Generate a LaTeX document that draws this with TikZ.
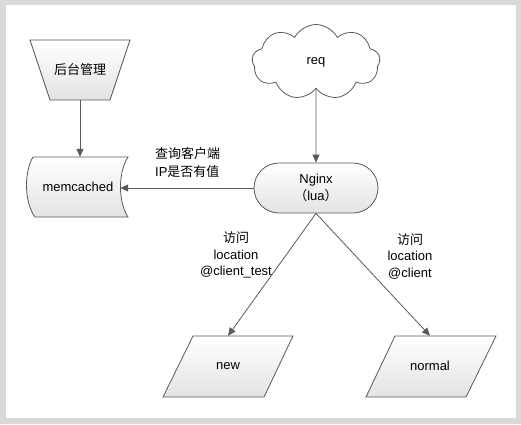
\documentclass[tikz,border=0pt]{standalone}
\usepackage{fontspec}
\setmainfont{Liberation Sans}
\newfontfamily\cjk{Noto Sans CJK SC}
\usetikzlibrary{arrows.meta,shapes.symbols,shapes.misc}
\definecolor{linec}{HTML}{5A5A5A}
\definecolor{framec}{HTML}{D9D9D9}
\definecolor{shadebot}{HTML}{E3E3E3}
\begin{document}
\begin{tikzpicture}[x=1pt,y=-1pt,
  font=\fontsize{13}{16.5}\selectfont,
  outline/.style={draw=linec, line width=0.8pt, top color=white, bottom color=shadebot},
  textbox/.style={inner sep=0pt, align=center},
  conn/.style={draw=linec, line width=0.8pt, -{Triangle[length=8pt,width=7pt]}},
  lbl/.style={inner sep=0pt, align=center}]
\useasboundingbox (0,0) rectangle (521,424);
\fill[framec] (0,0) rectangle (521,424);
\fill[white] (6,5) rectangle (516,418);
% shape outlines
\path[outline] (30,40) -- (130,40) -- (110,100) -- (50,100) -- cycle;
\path[outline] (33,157) -- (128,157) .. controls (118,172) and (118,202) .. (128,217)
  -- (35,217) .. controls (24,202) and (24,172) .. (33,157) -- cycle;
\path[outline] (193,336) -- (293,336) -- (264,397) -- (163,397) -- cycle;
\path[outline] (395,336) -- (496,336) -- (466,397) -- (366,397) -- cycle;
% nodes
\node[textbox, minimum width=100pt, minimum height=60pt] (admin) at (80,70) {\cjk 后台管理};
\node[textbox, minimum width=84pt, minimum height=60pt] (memc) at (78,187) {memcached};
\node[cloud, cloud puffs=9, cloud puff arc=125, aspect=1.7, draw=linec, line width=0.8pt, fill=white,
  minimum width=128pt, minimum height=75pt, inner sep=0pt] (req) at (316,62) {req};
\node[rounded rectangle, outline, minimum width=124pt, minimum height=50pt, inner sep=0pt, align=center]
  (nginx) at (316,188) {Nginx\\{\cjk （}lua{\cjk ）}};
\node[textbox, minimum width=100pt, minimum height=60pt] (new) at (228,366) {new};
\node[textbox, minimum width=100pt, minimum height=60pt] (normal) at (430,366) {normal};
% connectors
\draw[conn] (admin.south) -- (admin.south |- memc.north);
\draw[conn] (req) -- (nginx);
\draw[conn] (nginx.west) -- (nginx.west -| memc.east);
\draw[conn] (nginx.south) -- (new.north);
\draw[conn] (nginx.south) -- (normal.north);
% labels
\node[lbl, align=left, anchor=west, font=\fontsize{13}{18}\selectfont] (qlabel) at (155,163) {{\cjk 查询客户端}\\IP{\cjk 是否有值}};
\node[lbl] (llabel) at (236,255) {{\cjk 访问}\\location\\@client\_test};
\node[lbl] (rlabel) at (410,256) {{\cjk 访问}\\location\\@client};
\end{tikzpicture}
\end{document}
